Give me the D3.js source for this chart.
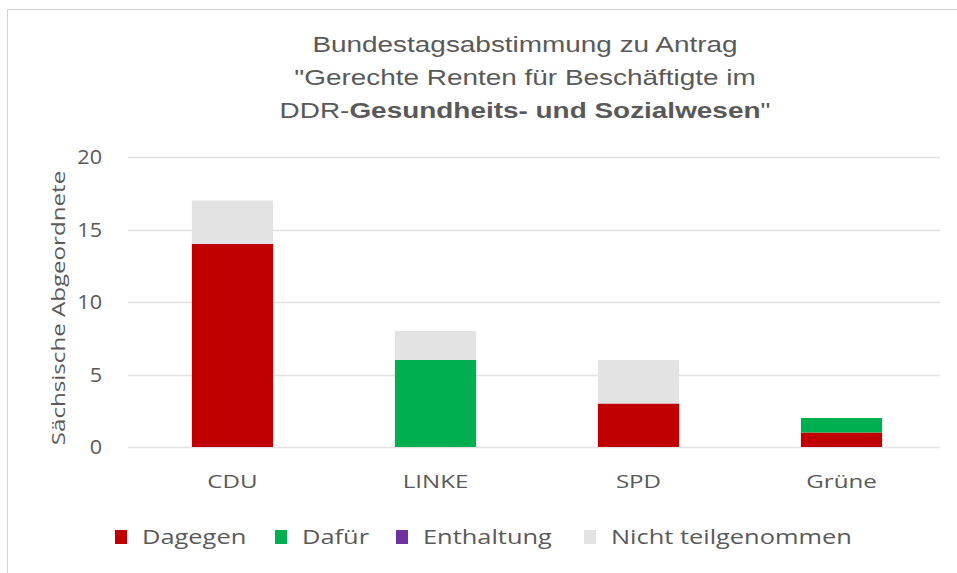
<!DOCTYPE html>
<html>
<head>
<meta charset="utf-8">
<script src="https://cdn.jsdelivr.net/npm/d3@7"></script>
<style>
  body { margin: 0; background: #fff; }
  svg { display: block; }
</style>
</head>
<body>
<svg id="chart" width="957" height="573"></svg>
<script>
// data
const parties = ["CDU", "LINKE", "SPD", "Grüne"];
const seriesNames = ["Dagegen", "Dafür", "Enthaltung", "Nicht teilgenommen"];
const dagegen = [14, 0, 3, 1];
const dafuer = [0, 6, 0, 1];
const enthaltung = [0, 0, 0, 0];
const nichtTeilgenommen = [3, 2, 3, 0];
const yTicks = [0, 5, 10, 15, 20];

const colors = ["#c00000", "#00b050", "#7030a0", "#e3e3e3"];
const textColor = "#595959";
const sansFont = "'Open Sans', sans-serif";
const stretch = 1.27; // the source picture is a bit wide

const svg = d3.select("#chart");
const width = +svg.attr("width");
const height = +svg.attr("height");

// frame (top and left edge only are visible)
svg.append("path")
  .attr("d", `M7.5,${height} V9.5 H${width}`)
  .attr("fill", "none")
  .attr("stroke", "#d4d4d4");

const plotLeft = 128, plotRight = 940;
const y = d3.scaleLinear()
  .domain([0, 20])
  .range([447, 157]);

const x = d3.scaleBand()
  .domain(parties)
  .range([plotLeft + 3, plotRight + 3])
  .paddingInner(0.6)
  .paddingOuter(0.3);

// gridlines
svg.append("g")
  .selectAll("line")
  .data(yTicks)
  .enter()
  .append("line")
  .attr("x1", plotLeft)
  .attr("x2", plotRight)
  .attr("y1", d => Math.round(y(d)) + 0.5)
  .attr("y2", d => Math.round(y(d)) + 0.5)
  .attr("stroke", "#e2e2e2")
  .attr("stroke-width", 1.5);

// helper: text with horizontal stretch
function stretchedText(parent, tx, ty, str, opts = {}) {
  const g = parent.append("g")
    .attr("transform", `translate(${tx},${ty})${opts.rotate ? ` rotate(${opts.rotate})` : ""} scale(${opts.sx || stretch},1)`);
  return g.append("text")
    .attr("text-anchor", opts.anchor || "middle")
    .attr("font-family", opts.font || sansFont)
    .attr("font-size", opts.size || "20px")
    .attr("font-weight", opts.weight || null)
    .attr("fill", textColor)
    .text(str);
}

// y tick labels
const yAxis = svg.append("g");
yTicks.forEach(t => {
  stretchedText(yAxis, 102, y(t) + 7, t, { anchor: "end", size: "20px", sx: 1.08 });
});

// stacked bars
const rows = parties.map((p, i) => ({
  party: p,
  "Dagegen": dagegen[i],
  "Dafür": dafuer[i],
  "Enthaltung": enthaltung[i],
  "Nicht teilgenommen": nichtTeilgenommen[i]
}));
const layers = d3.stack().keys(seriesNames)(rows);

svg.append("g")
  .selectAll("g")
  .data(layers)
  .enter()
  .append("g")
  .attr("fill", (d, i) => colors[i])
  .selectAll("rect")
  .data(d => d)
  .enter()
  .append("rect")
  .attr("x", d => x(d.data.party))
  .attr("width", x.bandwidth())
  .attr("y", d => y(d[1]))
  .attr("height", d => y(d[0]) - y(d[1]));

// x labels
const xLabels = svg.append("g");
parties.forEach(p => {
  stretchedText(xLabels, x(p) + x.bandwidth() / 2, 488, p, { size: "19px" });
});

// y axis title
stretchedText(svg, 65, (y(0) + y(20)) / 2 + 6, "Sächsische Abgeordnete", { rotate: -90, size: "19px" });

// title
const titleFont = "'Liberation Sans', Arial, sans-serif";
stretchedText(svg, 525, 52, "Bundestagsabstimmung zu Antrag", { font: titleFont, size: "22px" });
stretchedText(svg, 525, 85, "\"Gerechte Renten für Beschäftigte im", { font: titleFont, size: "22px" });
const l3 = stretchedText(svg, 525, 118, "", { font: titleFont, size: "22px" });
l3.append("tspan").text("DDR-");
l3.append("tspan").attr("font-weight", "bold").text("Gesundheits- und Sozialwesen");
l3.append("tspan").text("\"");

// legend
const legendX = [115, 275, 396, 584];
const legend = svg.append("g");
seriesNames.forEach((name, i) => {
  legend.append("rect")
    .attr("x", legendX[i]).attr("y", 530)
    .attr("width", 12).attr("height", 14)
    .attr("fill", colors[i]);
  stretchedText(legend, legendX[i] + 27, 544, name, { anchor: "start", size: "20px" });
});
</script>
</body>
</html>
